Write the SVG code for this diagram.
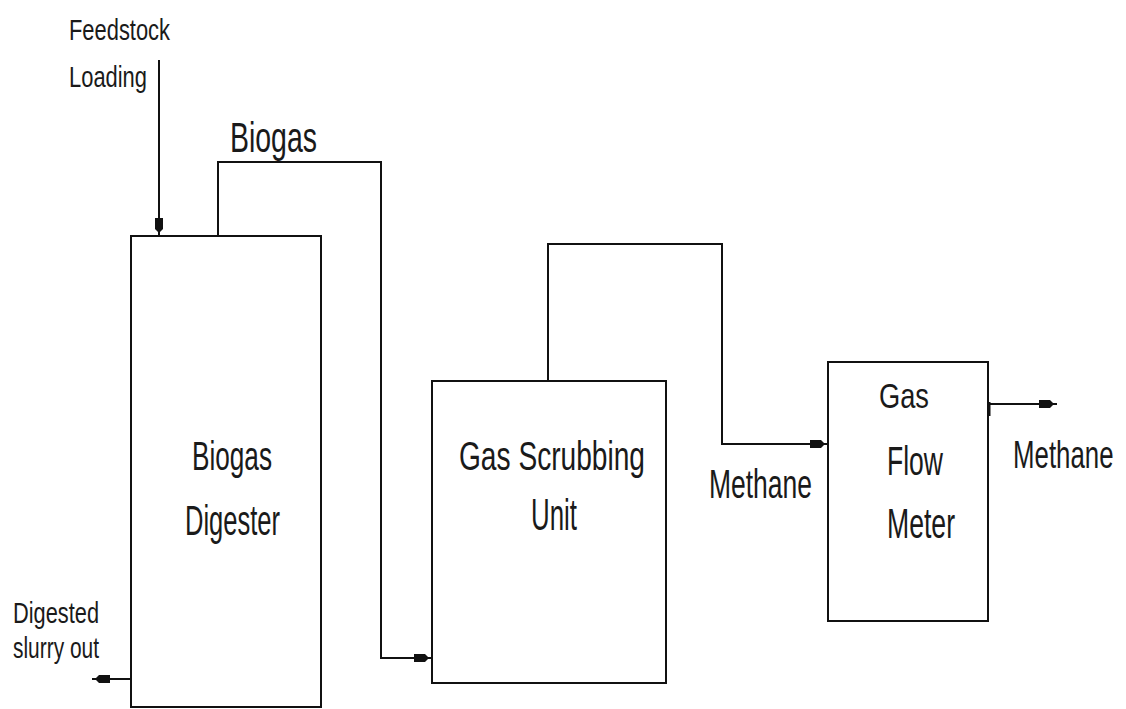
<svg xmlns="http://www.w3.org/2000/svg" width="1126" height="709" viewBox="0 0 1126 709">
<style>
.box{fill:#fff;stroke:#111;stroke-width:2}
.ln{fill:none;stroke:#111;stroke-width:2}
text{font-family:"Liberation Sans",Arial,sans-serif;fill:#1a1a1a}
</style>
<defs>
<marker id="ah" markerUnits="userSpaceOnUse" markerWidth="22" markerHeight="12" viewBox="0 -6 22 12" refX="18" refY="0" orient="auto">
<path d="M0,-4 L11,-4 L15,0 L11,4 L0,4 Z" fill="#111"/>
</marker>
</defs>
<rect width="1126" height="709" fill="#fff"/>
<g id="connectors">
<path class="ln" d="M159,60 V236" marker-end="url(#ah)"/>
<path class="ln" d="M218,236 V162 H381 V658 H432" marker-end="url(#ah)"/>
<path class="ln" d="M548,381 V244 H722 V444 H828" marker-end="url(#ah)"/>
<path class="ln" d="M988,404 H1057" marker-end="url(#ah)"/>
<path class="ln" d="M131,679 H92" marker-end="url(#ah)"/>
<path d="M989,402 V416" stroke="#111" stroke-width="3"/>
</g>
<g id="digester">
<rect class="box" x="131" y="236" width="190" height="471"/>
<text x="192" y="470" font-size="40" textLength="80" lengthAdjust="spacingAndGlyphs">Biogas</text>
<text x="185" y="535" font-size="42" textLength="95" lengthAdjust="spacingAndGlyphs">Digester</text>
</g>
<g id="scrubber">
<rect class="box" x="432" y="381" width="234" height="302"/>
<text x="459" y="470" font-size="40" textLength="186" lengthAdjust="spacingAndGlyphs">Gas Scrubbing</text>
<text x="531" y="530" font-size="44" textLength="46" lengthAdjust="spacingAndGlyphs">Unit</text>
</g>
<g id="meter">
<rect class="box" x="828" y="362" width="160" height="259"/>
<text x="879" y="408" font-size="35" textLength="50" lengthAdjust="spacingAndGlyphs">Gas</text>
<text x="887" y="475" font-size="40" textLength="56" lengthAdjust="spacingAndGlyphs">Flow</text>
<text x="887" y="538" font-size="42" textLength="68" lengthAdjust="spacingAndGlyphs">Meter</text>
</g>
<g id="labels">
<text x="69" y="40" font-size="30" textLength="101" lengthAdjust="spacingAndGlyphs">Feedstock</text>
<text x="69" y="87" font-size="30" textLength="78" lengthAdjust="spacingAndGlyphs">Loading</text>
<text x="230" y="152" font-size="42" textLength="87" lengthAdjust="spacingAndGlyphs">Biogas</text>
<text x="709" y="498" font-size="40" textLength="103" lengthAdjust="spacingAndGlyphs">Methane</text>
<text transform="matrix(0.68 0 0 1 1013 468)" font-size="38">Methane</text>
<text x="13" y="623" font-size="30" textLength="86" lengthAdjust="spacingAndGlyphs">Digested</text>
<text x="13" y="658" font-size="30" textLength="86" lengthAdjust="spacingAndGlyphs">slurry out</text>
</g>
</svg>
